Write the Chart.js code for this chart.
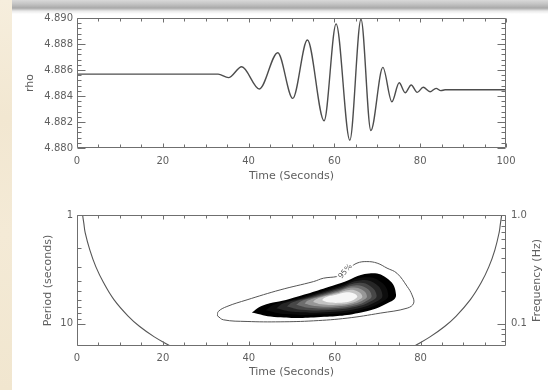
<!DOCTYPE html>
<html>
<head>
<meta charset="utf-8">
<script src="https://cdn.jsdelivr.net/npm/chart.js@4.4.1/dist/chart.umd.min.js"></script>
<style>
  html, body { margin: 0; padding: 0; background: #fff; }
  #page { position: relative; width: 548px; height: 390px; overflow: hidden; background: #fff; }
  #parchment { position: absolute; left: 0; top: 0; width: 12px; height: 390px;
    background: linear-gradient(180deg, #f6eedd 0%, #f2e7d1 30%, #f4ead6 60%, #f1e6cf 100%); }
  #shade { position: absolute; left: 12px; top: 0; width: 536px; height: 15px;
    background: linear-gradient(180deg, #d9d9d9 0px, #c4c4c4 4px, #a9a9a9 8px, #bdbdbd 9px, #e9e9e9 11px, #ffffff 14px); }
  .panel { position: absolute; left: 0; width: 548px; height: 195px; }
  #signalPanel { top: 0; }
  #spectrumPanel { top: 195px; }
</style>
</head>
<body>
<div id="page">
  <div id="parchment"></div>
  <div id="shade"></div>
  <div class="panel" id="signalPanel"><canvas id="signal" width="548" height="195"></canvas></div>
  <div class="panel" id="spectrumPanel"><canvas id="spectrum" width="548" height="195"></canvas></div>
</div>
<script>
// ---- time series: rho against time (turning points of the oscillation) ----
const signalTime = [0, 32.9, 35.3, 38.4, 42.5, 46.8, 50.3, 53.7, 57.6, 60.4, 63.6, 66.2, 68.5,
  71.3, 73.4, 75.1, 76.5, 77.9, 79.3, 80.7, 82.3, 83.7, 84.8, 85.8, 100];
const signalRho = [4.88568, 4.88568, 4.88541, 4.88625, 4.88454, 4.88733, 4.88382, 4.88831, 4.88210,
  4.88955, 4.88060, 4.88990, 4.88135, 4.88620, 4.88356, 4.88502, 4.88425, 4.88485, 4.88428,
  4.88467, 4.88433, 4.88459, 4.88441, 4.88448, 4.88448];

// ---- axis ticks ----
const signalTimeTicks = [0, 20, 40, 60, 80, 100];
const spectrumTimeTicks = [0, 20, 40, 60, 80];
const timeMinorTicks = [5, 10, 15, 25, 30, 35, 45, 50, 55, 65, 70, 75, 85, 90, 95];
const rhoTicks = [4.880, 4.882, 4.884, 4.886, 4.888, 4.890];
const rhoMinorTicks = [4.8804, 4.8808, 4.8812, 4.8816, 4.8824, 4.8828, 4.8832, 4.8836,
  4.8844, 4.8848, 4.8852, 4.8856, 4.8864, 4.8868, 4.8872, 4.8876, 4.8884, 4.8888, 4.8892, 4.8896];
const periodTicks = [1, 10];
const periodMinorTicks = [2, 3, 4, 5, 6, 7, 8, 9];
const frequencyTicks = [1.0, 0.1];
const frequencyMinorTicks = [0.9, 0.8, 0.7, 0.6, 0.5, 0.4, 0.3, 0.2, 0.09, 0.08, 0.07];

// ---- wavelet power: cone of influence (time, period) ----
const coiLeftTime = [1.3, 1.6, 1.9, 3.0, 4.4, 6.2, 8.6, 11.9, 14.6, 18.0, 21.7];
const coiLeftPeriod = [1.0, 1.2, 1.45, 2.1, 3.0, 4.2, 6.0, 8.5, 10.6, 13.2, 16.0];
const coiRightTime = [98.9, 98.6, 98.3, 97.3, 95.9, 94.1, 91.6, 88.3, 85.6, 82.2, 78.6];
const coiRightPeriod = [1.0, 1.2, 1.45, 2.1, 3.0, 4.2, 6.0, 8.5, 10.6, 13.2, 16.0];

// ---- 95% significance contour (time, period) ----
const sigTime = [32.7, 34.1, 39.6, 47.3, 55.1, 62.9, 70.6, 76.9, 78.4, 78.0, 76.9, 74.5, 72.2,
  69.9, 67.5, 65.2, 63.6, 62.9, 60.5, 57.4, 55.1, 47.3, 39.6, 34.9, 32.9, 32.7];
const sigPeriod = [8.45, 9.19, 9.52, 9.59, 9.39, 8.87, 7.98, 7.18, 6.46, 5.42, 4.55, 3.43, 3.08,
  2.77, 2.68, 2.77, 3.08, 3.43, 3.68, 3.81, 4.09, 4.88, 6.02, 6.94, 7.71, 8.45];

// ---- filled power levels, outermost (strongest shade) to innermost ----
const powerLevelShades = ['#000000', '#0d0d0d', '#262626', '#474747', '#6d6d6d', '#979797', '#c4c4c4', '#f6f6f6'];
const powerLevelTime = [
  [40.70, 45.92, 55.94, 66.43, 72.96, 74.29, 72.49, 68.00, 61.31, 49.65, 43.12, 40.70],
  [43.98, 48.44, 57.02, 65.87, 71.33, 72.48, 70.86, 66.94, 61.12, 51.38, 45.97, 43.98],
  [46.44, 50.33, 57.82, 65.45, 70.10, 71.13, 69.64, 66.14, 60.98, 52.67, 48.10, 46.44],
  [48.90, 52.21, 58.62, 65.03, 68.88, 69.78, 68.41, 65.35, 60.84, 53.96, 50.23, 48.90],
  [51.04, 53.85, 59.32, 64.67, 67.82, 68.61, 67.35, 64.66, 60.72, 55.08, 52.08, 51.04],
  [53.01, 55.36, 59.97, 64.34, 66.84, 67.52, 66.38, 64.03, 60.61, 56.12, 53.79, 53.01],
  [54.98, 56.87, 60.61, 64.00, 65.86, 66.44, 65.40, 63.39, 60.49, 57.15, 55.49, 54.98],
  [57.11, 58.51, 61.31, 63.64, 64.80, 65.27, 64.34, 62.70, 60.37, 58.27, 57.34, 57.11]
];
const powerLevelPeriod = [
  [7.89, 8.66, 8.70, 7.84, 6.28, 5.40, 3.90, 3.45, 4.25, 5.90, 6.84, 7.89],
  [7.49, 8.14, 8.19, 7.49, 6.20, 5.44, 4.14, 3.74, 4.46, 5.85, 6.64, 7.49],
  [7.21, 7.77, 7.82, 7.23, 6.14, 5.47, 4.33, 3.97, 4.63, 5.81, 6.49, 7.21],
  [6.93, 7.42, 7.47, 6.98, 6.09, 5.50, 4.53, 4.21, 4.80, 5.77, 6.35, 6.93],
  [6.70, 7.12, 7.18, 6.78, 6.04, 5.52, 4.70, 4.44, 4.95, 5.74, 6.23, 6.70],
  [6.50, 6.86, 6.92, 6.59, 5.99, 5.54, 4.87, 4.65, 5.10, 5.71, 6.12, 6.50],
  [6.30, 6.61, 6.68, 6.41, 5.95, 5.57, 5.05, 4.88, 5.25, 5.68, 6.01, 6.30],
  [6.09, 6.35, 6.42, 6.22, 5.90, 5.59, 5.25, 5.14, 5.42, 5.65, 5.90, 6.09]
];

const FONT = 'DejaVu Sans';
const TEXT = '#5f5f5f';
const AXIS = '#6f6f6f';

const pairs = (xs, ys) => xs.map((x, i) => ({ x: x, y: ys[i] }));
const fixTicks = values => scale => { scale.ticks = values.map(v => ({ value: v })); };

// Frame around the plot area plus inward-pointing tick marks on every side.
const frameTicks = {
  id: 'frameTicks',
  afterDatasetsDraw(chart, args, opts) {
    const { ctx, chartArea: a } = chart;
    const L = Math.round(a.left) + 0.5, R = Math.round(a.right) - 0.5;
    const T = Math.round(a.top) + 0.5, B = Math.round(a.bottom) - 0.5;
    ctx.save();
    ctx.strokeStyle = opts.color;
    ctx.lineWidth = 1;
    ctx.beginPath();
    ctx.rect(L, T, R - L, B - T);
    (opts.axes || []).forEach(ax => {
      const s = chart.scales[ax.id];
      const mark = (vals, len) => vals.forEach(v => {
        const p = Math.round(s.getPixelForValue(v)) + 0.5;
        ax.sides.forEach(side => {
          if (side === 'bottom') { ctx.moveTo(p, B); ctx.lineTo(p, B - len); }
          if (side === 'top') { ctx.moveTo(p, T); ctx.lineTo(p, T + len); }
          if (side === 'left') { ctx.moveTo(L, p); ctx.lineTo(L + len, p); }
          if (side === 'right') { ctx.moveTo(R, p); ctx.lineTo(R - len, p); }
        });
      });
      mark(ax.major, ax.majorLen);
      mark(ax.minor, ax.minorLen);
    });
    ctx.stroke();
    ctx.restore();
  }
};

// Extra text: rotated labels placed through the chart's scales.
const extraText = {
  id: 'extraText',
  afterDraw(chart, args, opts) {
    const { ctx, chartArea: a } = chart;
    (opts.items || []).forEach(it => {
      let x, y;
      if (it.axisTitle) {
        const s = chart.scales[it.axisTitle];
        x = s.right - it.inset;
        y = (a.top + a.bottom) / 2;
      } else {
        x = chart.scales[it.xAxis].getPixelForValue(it.x);
        y = chart.scales[it.yAxis].getPixelForValue(it.y);
      }
      ctx.save();
      ctx.translate(x, y);
      ctx.rotate(it.angle * Math.PI / 180);
      ctx.font = it.size + 'px "' + FONT + '"';
      ctx.textAlign = 'center';
      ctx.textBaseline = 'middle';
      if (it.knockout) {
        const w = ctx.measureText(it.text).width;
        ctx.fillStyle = '#fff';
        ctx.fillRect(-w / 2 - 1, -it.size / 2, w + 2, it.size);
      }
      ctx.fillStyle = it.color;
      ctx.fillText(it.text, 0, 0);
      ctx.restore();
    });
  }
};

const tickFont = { family: FONT, size: 10 };
const titleFont = { family: FONT, size: 11 };
const noGrid = { display: false, drawTicks: false };

// ---------------- top panel: time series ----------------
new Chart(document.getElementById('signal'), {
  type: 'line',
  data: {
    datasets: [{
      data: pairs(signalTime, signalRho),
      borderColor: '#4d4d4d',
      borderWidth: 1.4,
      pointRadius: 0,
      cubicInterpolationMode: 'monotone',
      fill: false
    }]
  },
  options: {
    responsive: false,
    animation: false,
    events: [],
    layout: { padding: { top: 18, right: 42, left: 0, bottom: 0 } },
    plugins: {
      legend: { display: false },
      tooltip: { enabled: false },
      frameTicks: {
        color: AXIS,
        axes: [
          { id: 'x', sides: ['bottom', 'top'], major: signalTimeTicks, minor: timeMinorTicks, majorLen: 4, minorLen: 3 },
          { id: 'y', sides: ['left', 'right'], major: rhoTicks, minor: rhoMinorTicks, majorLen: 8, minorLen: 4 }
        ]
      }
    },
    scales: {
      x: {
        type: 'linear', min: 0, max: 100,
        afterBuildTicks: fixTicks(signalTimeTicks),
        afterFit: s => { s.height = 47; },
        grid: noGrid, border: { display: false },
        ticks: { padding: 7, color: TEXT, font: tickFont, maxRotation: 0, autoSkip: false, callback: v => String(v) },
        title: { display: true, text: 'Time (Seconds)', color: TEXT, font: titleFont, padding: { top: 0, bottom: 12.5 } }
      },
      y: {
        type: 'linear', min: 4.880, max: 4.890,
        afterBuildTicks: fixTicks(rhoTicks),
        afterFit: s => { s.width = 77; },
        grid: noGrid, border: { display: false },
        ticks: { padding: 4, color: TEXT, font: tickFont, autoSkip: false, callback: v => v.toFixed(3) },
        title: { display: true, text: 'rho', color: TEXT, font: titleFont, padding: { top: 24, bottom: 0 } }
      }
    }
  },
  plugins: [frameTicks]
});

// ---------------- bottom panel: wavelet power spectrum ----------------
const spectrumSets = [];
powerLevelTime.forEach((ts, k) => {
  spectrumSets.push({
    data: pairs(ts, powerLevelPeriod[k]),
    backgroundColor: powerLevelShades[k],
    borderColor: 'rgba(0,0,0,0)',
    borderWidth: 0,
    pointRadius: 0,
    tension: 0.45,
    fill: 'shape',
    order: 20 - k
  });
});
spectrumSets.push({
  data: pairs(sigTime, sigPeriod),
  borderColor: '#555',
  borderWidth: 1,
  pointRadius: 0,
  tension: 0.4,
  fill: false,
  order: 1
});
spectrumSets.push({
  data: pairs(coiLeftTime, coiLeftPeriod),
  borderColor: '#555',
  borderWidth: 1.1,
  pointRadius: 0,
  tension: 0.4,
  fill: false,
  order: 0
});
spectrumSets.push({
  data: pairs(coiRightTime, coiRightPeriod),
  borderColor: '#555',
  borderWidth: 1.1,
  pointRadius: 0,
  tension: 0.4,
  fill: false,
  order: 0
});

new Chart(document.getElementById('spectrum'), {
  type: 'line',
  data: { datasets: spectrumSets },
  options: {
    responsive: false,
    animation: false,
    events: [],
    layout: { padding: { top: 20, right: 0, left: 0, bottom: 0 } },
    plugins: {
      legend: { display: false },
      tooltip: { enabled: false },
      filler: { propagate: false },
      frameTicks: {
        color: AXIS,
        axes: [
          { id: 'x', sides: ['bottom', 'top'], major: spectrumTimeTicks, minor: timeMinorTicks, majorLen: 4, minorLen: 3 },
          { id: 'y', sides: ['left'], major: periodTicks, minor: periodMinorTicks, majorLen: 8, minorLen: 4 },
          { id: 'freq', sides: ['right'], major: frequencyTicks, minor: frequencyMinorTicks, majorLen: 8, minorLen: 4 }
        ]
      },
      extraText: {
        items: [
          { text: '95%', xAxis: 'x', yAxis: 'y', x: 62.5, y: 3.3, angle: -50, size: 7.5, color: '#555', knockout: true },
          { text: 'Frequency (Hz)', axisTitle: 'freq', inset: 11, angle: -90, size: 11, color: TEXT }
        ]
      }
    },
    scales: {
      x: {
        type: 'linear', min: 0, max: 99.9,
        afterBuildTicks: fixTicks(spectrumTimeTicks),
        afterFit: s => { s.height = 44; },
        grid: noGrid, border: { display: false },
        ticks: { padding: 6, color: TEXT, font: tickFont, maxRotation: 0, autoSkip: false, callback: v => String(v) },
        title: { display: true, text: 'Time (Seconds)', color: TEXT, font: titleFont, padding: { top: 0, bottom: 11 } }
      },
      y: {
        type: 'logarithmic', min: 1, max: 16, reverse: true, position: 'left',
        afterBuildTicks: fixTicks(periodTicks),
        afterFit: s => { s.width = 77; },
        grid: noGrid, border: { display: false },
        ticks: { padding: 4, color: TEXT, font: tickFont, autoSkip: false, callback: v => String(v) },
        title: { display: true, text: 'Period (seconds)', color: TEXT, font: titleFont, padding: { top: 42, bottom: 0 } }
      },
      freq: {
        type: 'logarithmic', min: 0.0625, max: 1, position: 'right',
        afterBuildTicks: fixTicks(frequencyTicks),
        afterFit: s => { s.width = 42; },
        grid: noGrid, border: { display: false },
        ticks: { padding: 5, color: TEXT, font: tickFont, autoSkip: false, callback: v => v.toFixed(1) }
      }
    }
  },
  plugins: [frameTicks, extraText]
});
</script>
</body>
</html>
